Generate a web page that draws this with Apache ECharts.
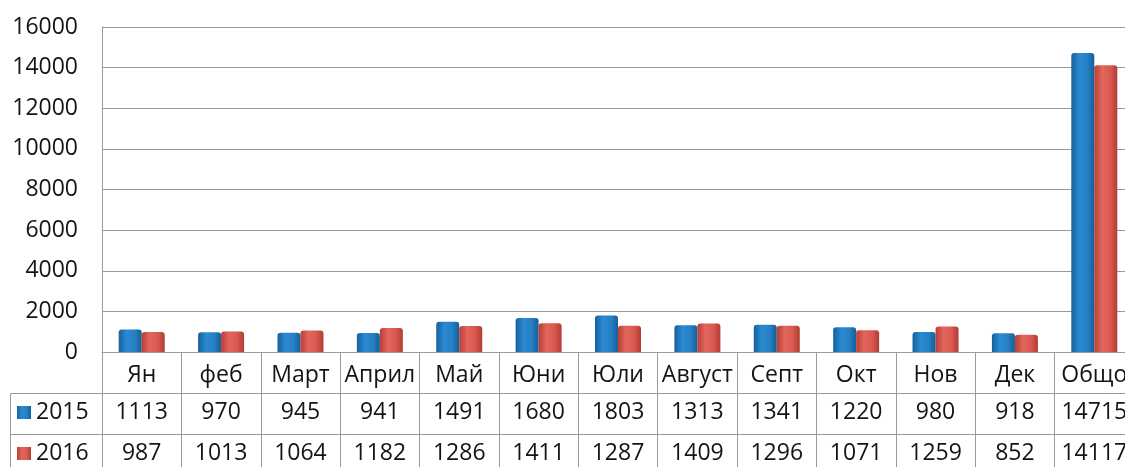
<!DOCTYPE html>
<html>
<head>
<meta charset="utf-8">
<script src="https://cdn.jsdelivr.net/npm/echarts@6/dist/echarts.min.js"></script>
<style>
  html, body { margin: 0; padding: 0; background: #fff; overflow: hidden; width: 1125px; height: 467px; }
  #chart { width: 1140px; height: 467px; }
</style>
</head>
<body>
<div id="chart"></div>
<script>
const categories = ['Ян', 'феб', 'Март', 'Април', 'Май', 'Юни', 'Юли', 'Август', 'Септ', 'Окт', 'Нов', 'Дек', 'Общо'];
const seriesNames = ['2015', '2016'];
const values2015 = [1113, 970, 945, 941, 1491, 1680, 1803, 1313, 1341, 1220, 980, 918, 14715];
const values2016 = [987, 1013, 1064, 1182, 1286, 1411, 1287, 1409, 1296, 1071, 1259, 852, 14117];
const yMin = 0, yMax = 16000, yStep = 2000;

const FONT = '"Open Sans", "Noto Sans", sans-serif';
const TXT = '#141414';
const LINE = '#9a9a9a';
const FS = 23;

const blueGrad = new echarts.graphic.LinearGradient(0, 0, 1, 0, [
  { offset: 0, color: '#16619b' },
  { offset: 0.35, color: '#2a8ad2' },
  { offset: 0.7, color: '#2680c5' },
  { offset: 1, color: '#155e97' }
]);
const redGrad = new echarts.graphic.LinearGradient(0, 0, 1, 0, [
  { offset: 0, color: '#b63f37' },
  { offset: 0.35, color: '#e2665c' },
  { offset: 0.7, color: '#d9594f' },
  { offset: 1, color: '#b03c35' }
]);

const chart = echarts.init(document.getElementById('chart'), null, { renderer: 'canvas' });

const labelBase = { fontFamily: FONT, fontSize: FS, color: TXT, interval: 0, lineHeight: FS };
const legendBase = {
  orient: 'horizontal',
  left: 17,
  itemWidth: 14,
  itemHeight: 13,
  padding: 0,
  icon: 'rect',
  textStyle: { fontFamily: FONT, fontSize: FS, color: TXT, lineHeight: FS },
  selectedMode: false
};

chart.setOption({
  animation: false,
  backgroundColor: '#ffffff',
  grid: { left: 102, top: 27, height: 325, width: 1032, containLabel: false },
  legend: [
    Object.assign({}, legendBase, { data: [seriesNames[0]], top: 401 }),
    Object.assign({}, legendBase, { data: [seriesNames[1]], top: 442 })
  ],
  xAxis: [
    {
      type: 'category',
      data: categories,
      position: 'bottom',
      boundaryGap: true,
      axisLine: { show: true, lineStyle: { color: LINE, width: 1 } },
      axisTick: { show: true, length: 123, interval: 0, lineStyle: { color: LINE, width: 1 } },
      axisLabel: Object.assign({}, labelBase, { margin: 12 }),
      splitLine: { show: false }
    },
    {
      type: 'category',
      data: categories,
      position: 'bottom',
      offset: 41,
      axisLine: { show: true, lineStyle: { color: LINE, width: 1 } },
      axisTick: { show: false },
      axisLabel: Object.assign({}, labelBase, { margin: 8, formatter: (v, i) => String(values2015[i]) })
    },
    {
      type: 'category',
      data: categories,
      position: 'bottom',
      offset: 82,
      axisLine: { show: true, lineStyle: { color: LINE, width: 1 } },
      axisTick: { show: false },
      axisLabel: Object.assign({}, labelBase, { margin: 8, formatter: (v, i) => String(values2016[i]) })
    }
  ],
  yAxis: {
    type: 'value',
    min: yMin,
    max: yMax,
    interval: yStep,
    axisLine: { show: true, lineStyle: { color: LINE, width: 1 } },
    axisTick: { show: false },
    axisLabel: { fontFamily: FONT, fontSize: FS, color: TXT, margin: 24, formatter: v => String(v) },
    splitLine: { show: true, lineStyle: { color: LINE, width: 1 } }
  },
  graphic: [
    { type: 'line', shape: { x1: 10.5, y1: 393.5, x2: 102, y2: 393.5 }, style: { stroke: LINE, lineWidth: 1 } },
    { type: 'line', shape: { x1: 10.5, y1: 434.5, x2: 102, y2: 434.5 }, style: { stroke: LINE, lineWidth: 1 } },
    { type: 'line', shape: { x1: 10.5, y1: 393.5, x2: 10.5, y2: 467 }, style: { stroke: LINE, lineWidth: 1 } }
  ],
  series: [
    {
      name: seriesNames[0],
      type: 'bar',
      xAxisIndex: 0,
      data: values2015,
      barWidth: 23,
      barGap: '0%',
      itemStyle: { color: blueGrad, borderRadius: [3, 3, 0, 0] }
    },
    {
      name: seriesNames[1],
      type: 'bar',
      xAxisIndex: 0,
      data: values2016,
      barWidth: 23,
      barGap: '0%',
      itemStyle: { color: redGrad, borderRadius: [3, 3, 0, 0] }
    }
  ]
});
</script>
</body>
</html>
